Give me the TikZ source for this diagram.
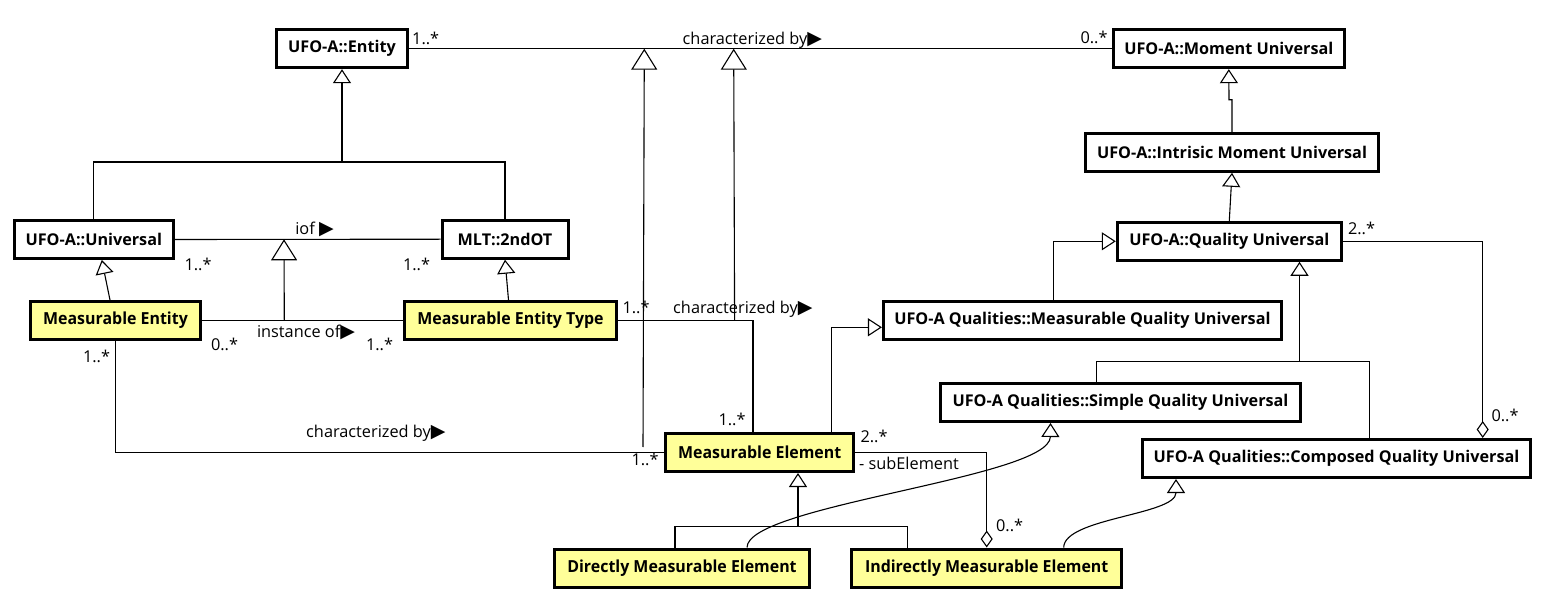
\documentclass[tikz,border=0pt]{standalone}
\usepackage{fontspec}
\setmainfont{Open Sans}
\newfontfamily\condfont{Open Sans}[FakeStretch=0.96]
\newfontfamily\symfont{DejaVu Sans}
\usetikzlibrary{arrows.meta, positioning}
\definecolor{kindfill}{HTML}{FFFF99}
\newcommand{\readdir}{{\symfont\fontsize{19}{19}\selectfont\char"25B6}}

\begin{document}
\begin{tikzpicture}[x=1pt, y=-1pt,
	cls/.style={draw, fill=white, line width=3pt, minimum height=38pt, inner sep=0pt, font=\fontsize{16.2}{20}\selectfont\bfseries},
	kind/.style={cls, fill=kindfill, font=\condfont\fontsize{16.6}{20}\selectfont\bfseries},
	lbl/.style={inner sep=0pt, anchor=base, font=\fontsize{16.3}{19}\selectfont},
	edge/.style={line width=1.1pt},
	gen/.style={edge, -{Triangle[open, length=14pt, width=18pt]}},
	biggen/.style={edge, -{Triangle[open, length=21pt, width=26pt]}},
	agg/.style={edge, -{Diamond[open, length=17pt, width=12pt]}}]
	     \useasboundingbox (0,0) rectangle (1545,601);

	     % nodes %
		 \node[cls, minimum width=131pt] (entity) at (342,48.7) {UFO-A::Entity};
		 \node[cls, minimum width=231pt] (moment) at (1228.8,48.7) {UFO-A::Moment Universal};
		 \node[cls, minimum width=293pt] (intrinsic) at (1232,152.3) {UFO-A::Intrisic Moment Universal};
		 \node[cls, minimum width=224pt] (quality) at (1229.3,241.3) {UFO-A::Quality Universal};
		 \node[cls, minimum width=159pt] (universal) at (93.8,239.5) {UFO-A::Universal};
		 \node[cls, minimum width=126pt] (secondot) at (505,239.2) {MLT::2ndOT};
		 \node[kind, minimum width=170pt] (mentity) at (115.5,320.5) {Measurable Entity};
		 \node[kind, minimum width=212pt] (mtype) at (510.5,320.5) {Measurable Entity Type};
		 \node[cls, minimum width=398pt] (mquality) at (1082.4,320.3) {UFO-A Qualities::Measurable Quality Universal};
		 \node[cls, minimum width=360pt] (simple) at (1120.5,402.5) {UFO-A Qualities::Simple Quality Universal};
		 \node[cls, minimum width=388pt] (composed) at (1336.5,458.5) {UFO-A Qualities::Composed Quality Universal};
		 \node[kind, minimum width=188pt] (melement) at (759.7,452.5) {Measurable Element};
		 \node[kind, minimum width=255pt] (direct) at (682,568) {Directly Measurable Element};
		 \node[kind, minimum width=270pt] (indirect) at (986.7,568) {Indirectly Measurable Element};

		 % bend points %
		 \coordinate (gentity) at (342,162);
		 \coordinate (gquality) at (1299.5,361.7);
		 \coordinate (gelement) at (798,526.7);
		 \coordinate (chartop1) at (644.3,48.7);
		 \coordinate (chartop2) at (733.7,48.7);
		 \coordinate (charlow) at (643,447);
		 \coordinate (chartype) at (734.6,320.5);
		 \coordinate (iofmid) at (284,239.3);
		 \coordinate (instmid) at (284.3,320.5);

		 % edges %
		 \draw[gen] (gentity) -- (entity.south);
		 \draw[edge] (universal.north) |- (gentity) -| (secondot.north);
		 \draw[gen] ([xshift=-5.5pt]mentity.north) -- ([xshift=8pt]universal.south);
		 \draw[gen] ([xshift=-2pt]mtype.north) -- (secondot.south);
		 \draw[gen] (intrinsic.north) |- ++(-3,-32) -- (moment.south);
		 \draw[gen] (quality.north) -- (intrinsic.south);
		 \draw[gen] ([xshift=-29pt]mquality.north) |- (quality.west);
		 \draw[gen] ([xshift=71.7pt]melement.north) |- ([yshift=-7pt]mquality.west);
		 \draw[gen] (gquality) -- ([xshift=70.2pt]quality.south);
		 \draw[edge] ([xshift=-24pt]simple.north) |- (gquality) -| ([xshift=33.2pt]composed.north);
		 \draw[gen] (gelement) -- ([xshift=38.3pt]melement.south);
		 \draw[edge] ([xshift=-7pt]direct.north) |- (gelement) -| ([xshift=-79pt]indirect.north);
		 \draw[gen] ([xshift=65pt]direct.north) .. controls (747,505) and (1050,478) .. ([xshift=-70pt]simple.south);
		 \draw[gen] ([xshift=77pt]indirect.north) .. controls (1064,518) and (1176,515) .. ([xshift=-160.5pt]composed.south);

		 \draw[edge] (entity.east) -- (moment.west);
		 \draw[edge] (universal.east) -- (secondot.west);
		 \draw[edge] (mentity.east) -- (mtype.west);
		 \draw[edge] (mentity.south) |- (melement.west);
		 \draw[edge] (mtype.east) -| ([xshift=-6.7pt]melement.north);
		 \draw[biggen] (charlow) -- (chartop1);
		 \draw[biggen] (chartype) -- (chartop2);
		 \draw[biggen] (instmid) -- (iofmid);
		 \draw[agg] (melement.east) -| (indirect.north);
		 \draw[agg] (quality.east) -| ([xshift=146.2pt]composed.north);

		 % labels %
		 \node[lbl] (topfrom) at (425.7,45) {1..*};
		 \node[lbl] (topto) at (1094,44) {0..*};
		 \node[lbl] (topname) at (752.3,45) {characterized by\readdir};
		 \node[lbl] (iofname) at (314.5,235) {iof \readdir};
		 \node[lbl] (ioffrom) at (198,271) {1..*};
		 \node[lbl] (iofto) at (416.5,271) {1..*};
		 \node[lbl] (instname) at (306,338) {instance of\readdir};
		 \node[lbl] (instfrom) at (224.5,351) {0..*};
		 \node[lbl] (instto) at (379.5,351) {1..*};
		 \node[lbl] (typefrom) at (636,313.3) {1..*};
		 \node[lbl] (typename) at (742.8,313.3) {characterized by\readdir};
		 \node[lbl] (typeto) at (732,425.7) {1..*};
		 \node[lbl] (lowfrom) at (96.5,363) {1..*};
		 \node[lbl] (lowname) at (375.8,438) {characterized by\readdir};
		 \node[lbl] (lowto) at (645,465) {1..*};
		 \node[lbl] (subfrom) at (874,442.7) {2..*};
		 \node[lbl] (subrole) at (909,469) {- subElement};
		 \node[lbl] (subto) at (1009.6,531.7) {0..*};
		 \node[lbl] (partfrom) at (1361.5,234.3) {2..*};
		 \node[lbl] (partto) at (1505,421.7) {0..*};
	     \end{tikzpicture}
\end{document}
